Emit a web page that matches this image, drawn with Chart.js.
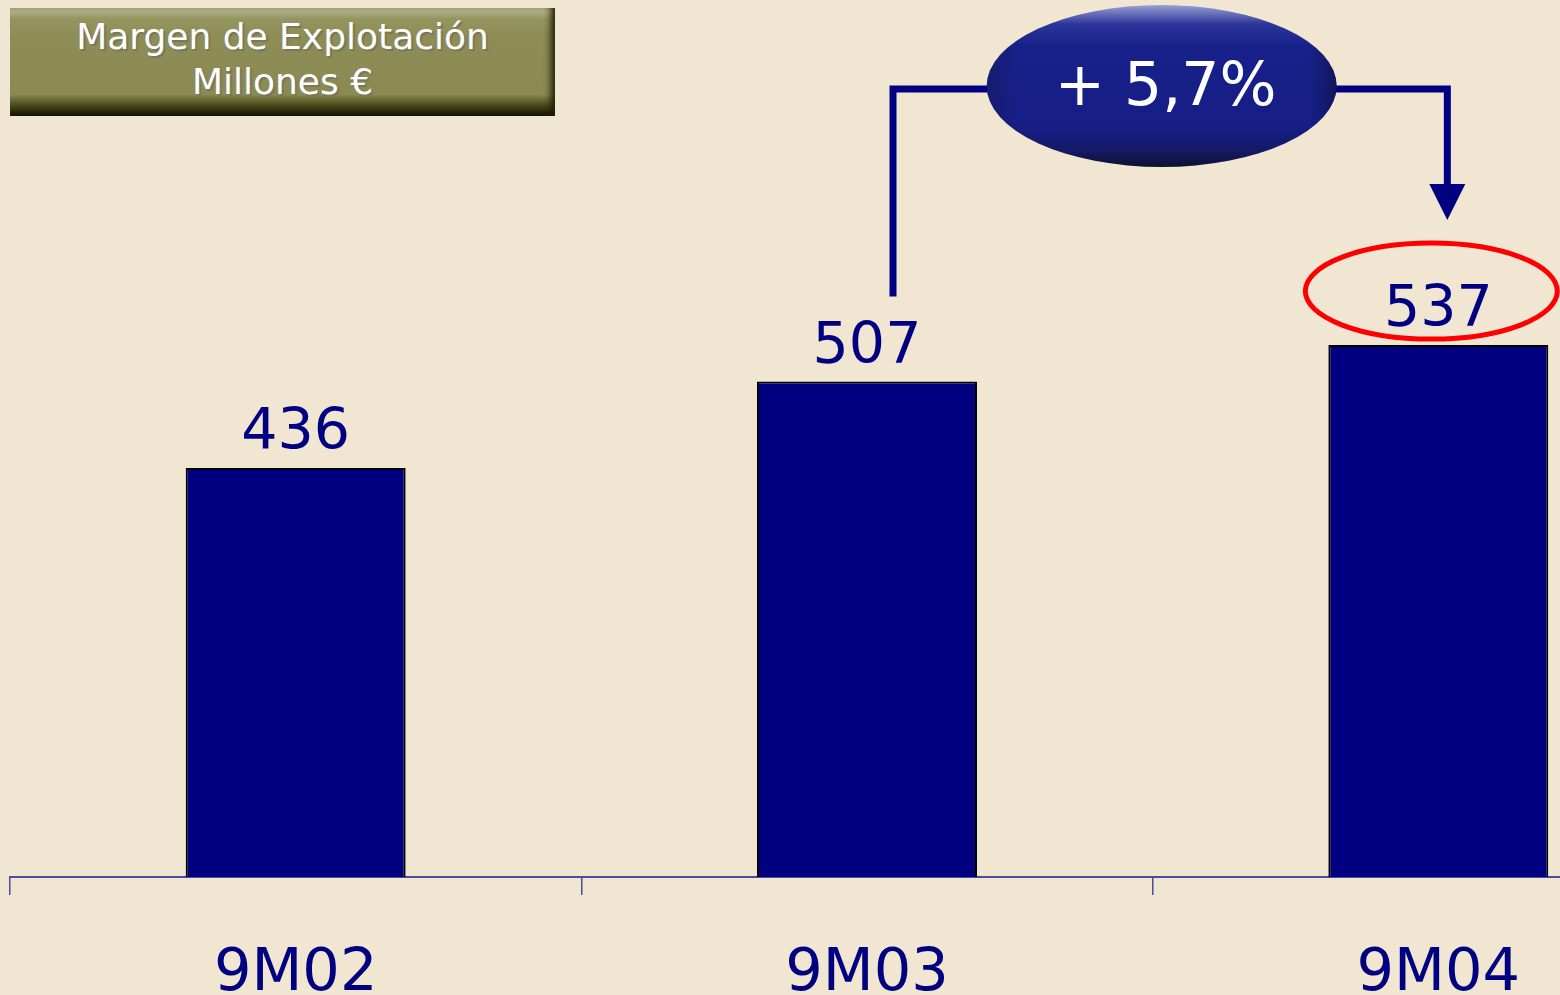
<!DOCTYPE html>
<html>
<head>
<meta charset="utf-8">
<script src="https://cdn.jsdelivr.net/npm/chart.js@4/dist/chart.umd.min.js"></script>
<style>
  html, body { margin: 0; padding: 0; background: #F0E6D1; overflow: hidden; }
  #wrap { position: relative; width: 1560px; height: 995px; overflow: hidden; }
  #chartBox { position: absolute; left: 0; top: 0; width: 1730px; height: 995px; }
  #titleBox {
    position: absolute; left: 10px; top: 8px; width: 545px; height: 108px;
    box-sizing: border-box; padding-top: 6px;
    background: linear-gradient(to bottom, #bcbc98 0%, #959560 10%, #8d8d55 25%, #8a8a52 80%, #4a4a1c 90%, #141400 100%);
    box-shadow: inset -7px 0 7px -3px #1f1f05;
    color: #fff; text-align: center;
    font-family: "DejaVu Sans", sans-serif; font-size: 36px; line-height: 45px;
    text-shadow: 2px 2px 1px #77775f;
  }
</style>
</head>
<body>
<div id="wrap">
  <div id="chartBox"><canvas id="barChart" width="1730" height="995"></canvas></div>
  <div id="titleBox">Margen de Explotación<br>Millones €</div>
</div>
<script>
const categories = ['9M02', '9M03', '9M04']
const values = [436, 507, 537]
const growthLabel = '+ 5,7%'

const navy = '#000080'

// value above each bar
const valueLabels = {
  id: 'valueLabels',
  afterDatasetsDraw(chart) {
    const ctx = chart.ctx
    const meta = chart.getDatasetMeta(0)
    ctx.save()
    ctx.font = '57px "DejaVu Sans"'
    ctx.fillStyle = navy
    ctx.textAlign = 'center'
    ctx.textBaseline = 'alphabetic'
    meta.data.forEach((bar, i) => {
      ctx.fillText(values[i], bar.x, bar.y - 19)
    })
    ctx.restore()
  }
}

// bracket, growth bubble, red circle
const growthNote = {
  id: 'growthNote',
  afterDraw(chart) {
    const ctx = chart.ctx
    const x = chart.scales.x
    const y = chart.scales.y
    const leftX = x.getPixelForValue(1) + 26
    const rightX = x.getPixelForValue(2) + 9
    const topY = 89
    const bottomY = y.getPixelForValue(values[1]) - 85
    const tipY = y.getPixelForValue(values[2]) - 125

    ctx.save()
    ctx.strokeStyle = navy
    ctx.lineWidth = 7
    ctx.beginPath()
    ctx.moveTo(leftX, bottomY)
    ctx.lineTo(leftX, topY)
    ctx.lineTo(rightX, topY)
    ctx.lineTo(rightX, tipY - 34)
    ctx.stroke()
    ctx.fillStyle = navy
    ctx.beginPath()
    ctx.moveTo(rightX - 18, tipY - 36)
    ctx.lineTo(rightX + 18, tipY - 36)
    ctx.lineTo(rightX, tipY)
    ctx.closePath()
    ctx.fill()

    // bubble
    const cx = x.getPixelForValue(1.5) + 9
    const cy = 86
    const rx = 175, ry = 81
    const g = ctx.createLinearGradient(0, cy - ry, 0, cy + ry)
    g.addColorStop(0, '#9aa0d4')
    g.addColorStop(0.12, '#2a3498')
    g.addColorStop(0.25, '#182189')
    g.addColorStop(0.75, '#161e86')
    g.addColorStop(0.9, '#141a66')
    g.addColorStop(1, '#0e1030')
    ctx.fillStyle = g
    ctx.beginPath()
    ctx.ellipse(cx, cy, rx, ry, 0, 0, Math.PI * 2)
    ctx.fill()
    const side = ctx.createLinearGradient(cx - rx, 0, cx + rx, 0)
    side.addColorStop(0, 'rgba(20,20,60,0.35)')
    side.addColorStop(0.08, 'rgba(20,20,60,0)')
    side.addColorStop(0.92, 'rgba(20,20,60,0)')
    side.addColorStop(1, 'rgba(10,10,40,0.5)')
    ctx.fillStyle = side
    ctx.fill()

    ctx.fillStyle = '#ffffff'
    ctx.font = '60px "DejaVu Sans"'
    ctx.textAlign = 'center'
    ctx.textBaseline = 'alphabetic'
    ctx.fillText(growthLabel, cx + 4, cy + 19)

    // red ring round the last value
    ctx.strokeStyle = '#ff0000'
    ctx.lineWidth = 5
    ctx.beginPath()
    ctx.ellipse(x.getPixelForValue(2) - 7, y.getPixelForValue(values[2]) - 54, 126, 48, 0, 0, Math.PI * 2)
    ctx.stroke()
    ctx.restore()
  }
}

const ctx = document.getElementById('barChart').getContext('2d')
const myChart = new Chart(ctx, {
  type: 'bar',
  data: {
    labels: categories,
    datasets: [{
      data: values,
      backgroundColor: navy,
      borderColor: '#000000',
      borderWidth: 2,
      borderSkipped: 'bottom',
      barPercentage: 0.385,
      categoryPercentage: 1
    }]
  },
  options: {
    responsive: false,
    animation: false,
    events: [],
    layout: { padding: { left: 10, right: 6, top: 25, bottom: 0 } },
    plugins: { legend: { display: false }, tooltip: { enabled: false } },
    scales: {
      x: {
        grid: {
          offset: true,
          drawOnChartArea: false,
          drawTicks: true,
          tickLength: 18,
          color: '#4c4c9c',
          lineWidth: 1.5
        },
        border: { display: true, color: '#4c4c9c', width: 2 },
        ticks: {
          color: navy,
          font: { family: 'DejaVu Sans', size: 59 },
          padding: 44
        },
        afterFit(scale) { scale.height = 118 }
      },
      y: {
        display: false,
        min: 100,
        max: 800
      }
    }
  },
  plugins: [valueLabels, growthNote]
})
</script>
</body>
</html>
